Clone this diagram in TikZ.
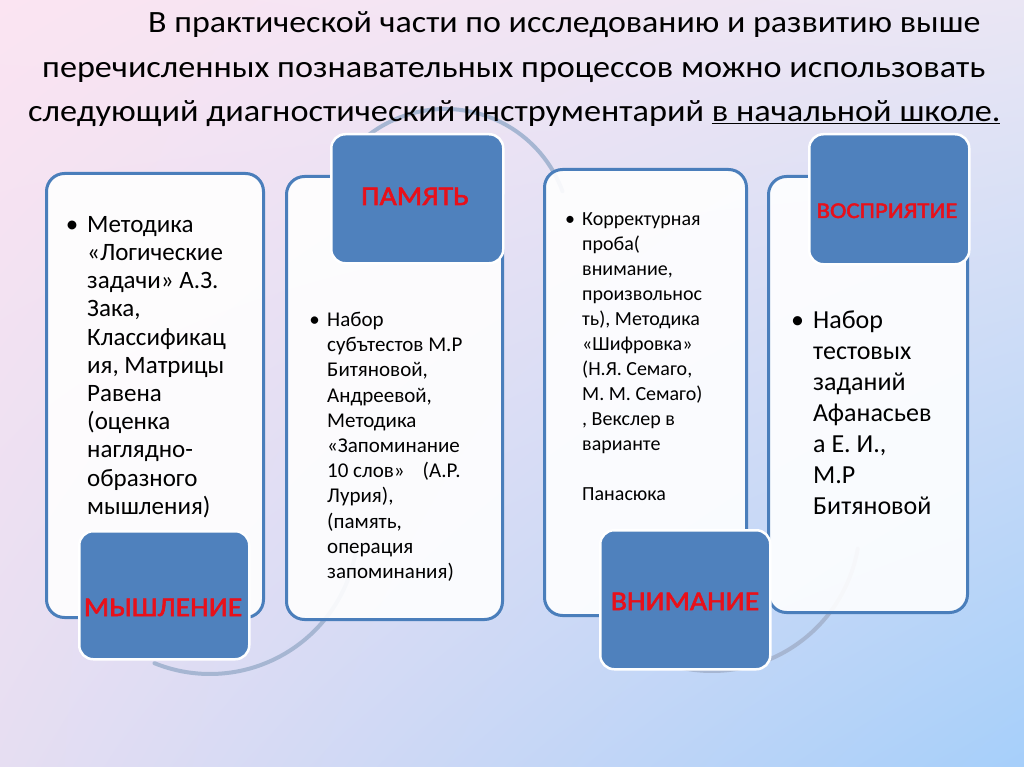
\documentclass[tikz,border=0pt]{standalone}
\usepackage{fontspec}
\setmainfont{Carlito}
\newfontfamily\tagfont{Carlito}[FakeBold=2.2, FakeStretch=1.1]
\usepackage{graphicx}
\usetikzlibrary{shadings}

\definecolor{bgpink}{HTML}{FBE4F2}
\definecolor{bgtop}{HTML}{EAE6F4}
\definecolor{bglow}{HTML}{E6DEF2}
\definecolor{bgblue}{HTML}{A6CFFA}
\definecolor{boxline}{HTML}{4A7EBB}
\definecolor{labfill}{HTML}{4F81BD}
\definecolor{labred}{HTML}{E8101A}
\definecolor{arcgray}{HTML}{A6B6D2}

\tikzset{
  panel/.style={draw=boxline, line width=3pt, rounded corners=18pt, fill=white,
    fill opacity=0.9, anchor=north west, inner sep=0pt},
  tag/.style={draw=white, line width=2.5pt, rounded corners=14pt, fill=labfill,
    anchor=north west, inner sep=0pt},
  tagtext/.style={text=labred, anchor=base, inner sep=0pt},
  body/.style={anchor=north west, align=left, inner sep=0pt},
  hoop/.style={draw=arcgray, line width=4pt, line cap=round},
  headline/.style={anchor=base west, inner sep=0pt},
}
\newcommand{\fitline}[2]{\resizebox{#1}{\height}{\fontsize{31}{37}\selectfont #2}}
\newcommand{\bul}{\llap{•\hspace{0.35em}}}

\begin{document}
\begin{tikzpicture}[x=1pt, y=-1pt]
  \useasboundingbox (0,0) rectangle (1024,767);
  \shade[upper left=bgpink, upper right=bgtop, lower left=bglow, lower right=bgblue]
    (0,0) rectangle (1024,767);

  % arcs behind the panels
  \draw[hoop] (210,526) ++(112:148) arc[start angle=112, end angle=10, radius=148];
  \draw[hoop] (445,234) ++(-150:125) arc[start angle=-150, end angle=-20, radius=125];
  \draw[hoop] (712,523) ++(112:148) arc[start angle=112, end angle=10, radius=148];

  % panels
  \node[panel, minimum width=217pt, minimum height=444pt] (b1) at (45,172) {};
  \node[panel, minimum width=216pt, minimum height=443pt] (b2) at (285,175) {};
  \node[panel, minimum width=202pt, minimum height=446pt] (b3) at (543,168) {};
  \node[panel, minimum width=199pt, minimum height=436pt] (b4) at (767,175) {};

  % labels
  \node[tag, minimum width=170pt, minimum height=128pt] (l1) at (78,530) {};
  \node[tag, minimum width=172pt, minimum height=129pt] (l2) at (330,133) {};
  \node[tag, minimum width=170pt, minimum height=139pt] (l3) at (599,529) {};
  \node[tag, minimum width=160pt, minimum height=130pt] (l4) at (808,133) {};

  \node[tagtext, font=\tagfont\fontsize{27}{30}\selectfont] (n1) at (163,616) {МЫШЛЕНИЕ};
  \node[tagtext, font=\tagfont\fontsize{27}{30}\selectfont] (n2) at (415,205) {ПАМЯТЬ};
  \node[tagtext, font=\tagfont\fontsize{27}{30}\selectfont] (n3) at (685,610) {ВНИМАНИЕ};
  \node[tagtext, font=\tagfont\fontsize{22.5}{24}\selectfont] (n4) at (887,218) {ВОСПРИЯТИЕ};

  % panel texts
  \node[body, font=\fontsize{25}{28.2}\selectfont] (x1) at (87,216)
    {\bul Методика\\«Логические\\задачи» А.З.\\Зака,\\Классификац\\ия, Матрицы\\Равена\\(оценка\\наглядно-\\образного\\мышления)};
  \node[body, font=\fontsize{21}{25.2}\selectfont] (x2) at (327,312)
    {\bul Набор\\субътестов М.Р\\Битяновой,\\Андреевой,\\Методика\\«Запоминание\\10 слов»\hspace{18pt}(А.Р.\\Лурия),\\(память,\\операция\\запоминания)};
  \node[body, font=\fontsize{20}{25}\selectfont] (x3) at (582,212)
    {\bul Корректурная\\проба(\\внимание,\\произвольнос\\ть), Методика\\«Шифровка»\\(Н.Я. Семаго,\\М. М. Семаго)\\, Векслер в\\варианте\\[25pt]Панасюка};
  \node[body, font=\fontsize{26}{31}\selectfont] (x4) at (813,311)
    {\bul Набор\\тестовых\\заданий\\Афанасьев\\а Е. И.,\\М.Р\\Битяновой};

  % heading
  \node[headline] (t1) at (148,33) {\fitline{832pt}{В практической части по исследованию и развитию выше}};
  \node[headline] (t2) at (42,78) {\fitline{943pt}{перечисленных познавательных процессов можно использовать}};
  \node[headline] (t3) at (28,122) {\fitline{972pt}{следующий диагностический инструментарий \underline{в начальной школе.}}};
\end{tikzpicture}
\end{document}
